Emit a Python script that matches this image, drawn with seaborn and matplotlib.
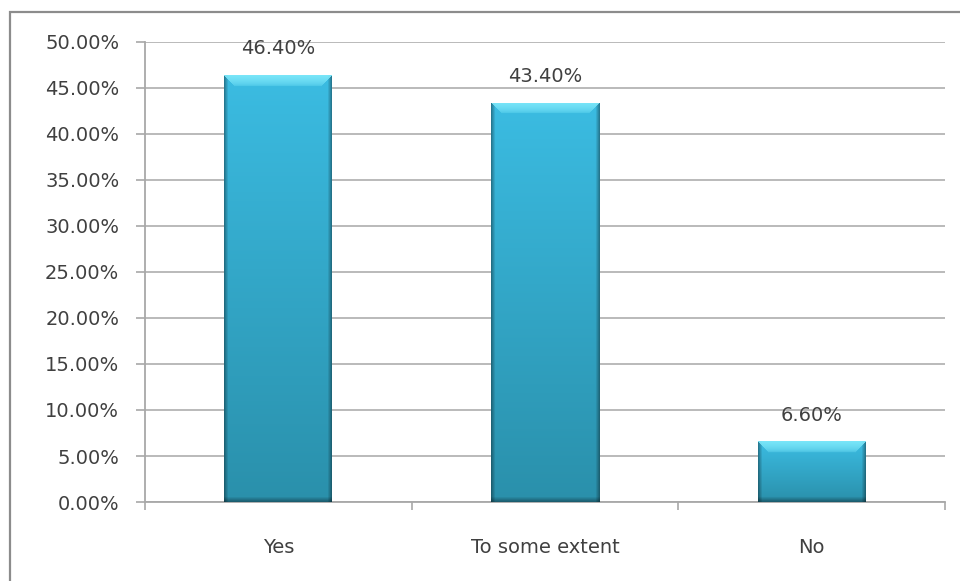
import numpy as np
import pandas as pd
import matplotlib
matplotlib.use("Agg")
import matplotlib.pyplot as plt
from matplotlib.patches import Rectangle
import seaborn as sns

# Survey responses (percent of respondents)
categories = ["Yes", "To some extent", "No"]
values = [46.40, 43.40, 6.60]
value_labels = ["46.40%", "43.40%", "6.60%"]
y_ticks = [0, 5, 10, 15, 20, 25, 30, 35, 40, 45, 50]
y_tick_labels = ["0.00%", "5.00%", "10.00%", "15.00%", "20.00%", "25.00%",
                 "30.00%", "35.00%", "40.00%", "45.00%", "50.00%"]

sns.set_theme(style="white")
plt.rcParams["font.family"] = ["DejaVu Sans"]

df = pd.DataFrame({"category": categories, "value": values})

W, H, DPI = 960, 581, 100
FS = 14
TXT = "#404040"
fig = plt.figure(figsize=(W / DPI, H / DPI), dpi=DPI)
fig.patch.set_facecolor("white")
ax = fig.add_axes([145 / W, 1 - 502 / H, 800 / W, 460 / H])

sns.barplot(data=df, x="category", y="value", color="#35b2d8", width=0.405,
            ax=ax, zorder=2, saturation=1)

ax.set_ylim(0, 50)
ax.set_xlim(-0.5, 2.5)
ax.set_yticks(y_ticks)
ax.set_yticklabels(y_tick_labels)
ax.set_xlabel("")
ax.set_ylabel("")

# Gridlines and axes
ax.grid(axis="y", color="#b4b4b4", linewidth=1.3, zorder=0)
ax.grid(axis="x", visible=False)
ax.set_axisbelow(True)
for side in ("top", "right"):
    ax.spines[side].set_visible(False)
for side in ("left", "bottom"):
    ax.spines[side].set_color("#a8a8a8")
    ax.spines[side].set_linewidth(1.3)

ax.tick_params(axis="y", which="major", left=True, length=6.5, width=1.2,
               color="#a8a8a8", pad=12, labelsize=FS, labelcolor=TXT)
ax.tick_params(axis="x", which="major", bottom=False, length=0, pad=26,
               labelsize=FS, labelcolor=TXT)
ax.set_xticks([-0.5, 0.5, 1.5, 2.5], minor=True)
ax.tick_params(axis="x", which="minor", bottom=True, length=6, width=1.2,
               color="#a8a8a8")


def bar_shading(w_px, h_px):
    """RGB image of a bevelled, vertically graded bar face."""
    w_px, h_px = max(int(w_px), 2), max(int(h_px), 2)
    t = np.linspace(0, 1, h_px)[:, None, None]
    top = np.array([0x3b, 0xbc, 0xe2]) / 255
    bot = np.array([0x2a, 0x90, 0xab]) / 255
    img = np.broadcast_to(top * (1 - t) + bot * t, (h_px, w_px, 3)).copy()
    rows = np.arange(h_px)[:, None]
    cols = np.arange(w_px)[None, :]
    d_top = rows
    d_bot = h_px - 1 - rows
    d_side = np.minimum(cols, w_px - 1 - cols)
    # darker rims on the sides and the bottom
    side = np.clip(1 - d_side / 4.0, 0, 1)[..., None] * np.ones((h_px, 1, 1))
    img = img * (1 - 0.35 * side)
    bottom = np.clip(1 - d_bot / 5.0, 0, 1)[..., None] * np.ones((1, w_px, 1))
    img = img * (1 - 0.35 * bottom)
    # light bevel along the top, cut diagonally at the corners
    light = np.array([0x80, 0xea, 0xfb]) / 255
    depth = 11.0
    bevel = np.clip(1 - d_top / depth, 0, 1) ** 0.45
    bevel = bevel * (d_side >= np.minimum(d_top, depth))
    bevel = bevel[..., None]
    img = img * (1 - 0.9 * bevel) + light * 0.9 * bevel
    return np.clip(img, 0, 1)


px_per_x = 800 / 3.0
px_per_y = 460 / 50.0
for patch in ax.patches:
    x0 = patch.get_x()
    w = patch.get_width()
    h = patch.get_height()
    img = bar_shading(w * px_per_x, h * px_per_y)
    im = ax.imshow(img, extent=(x0, x0 + w, 0, h), aspect="auto",
                   origin="upper", zorder=3, interpolation="bilinear")
    im.set_clip_path(patch)
    patch.set_edgecolor("none")
ax.set_xlim(-0.5, 2.5)
ax.set_ylim(0, 50)

ax.bar_label(ax.containers[0], labels=value_labels, padding=12,
             fontsize=FS, color=TXT, zorder=4)

# chart frame
fig.add_artist(Rectangle((10 / W, -0.1), 1.0, 1 - 12 / H + 0.1,
                         transform=fig.transFigure, fill=False,
                         edgecolor="#8c8c8c", linewidth=1.6))

fig.savefig("out.png", dpi=DPI, facecolor="white")
